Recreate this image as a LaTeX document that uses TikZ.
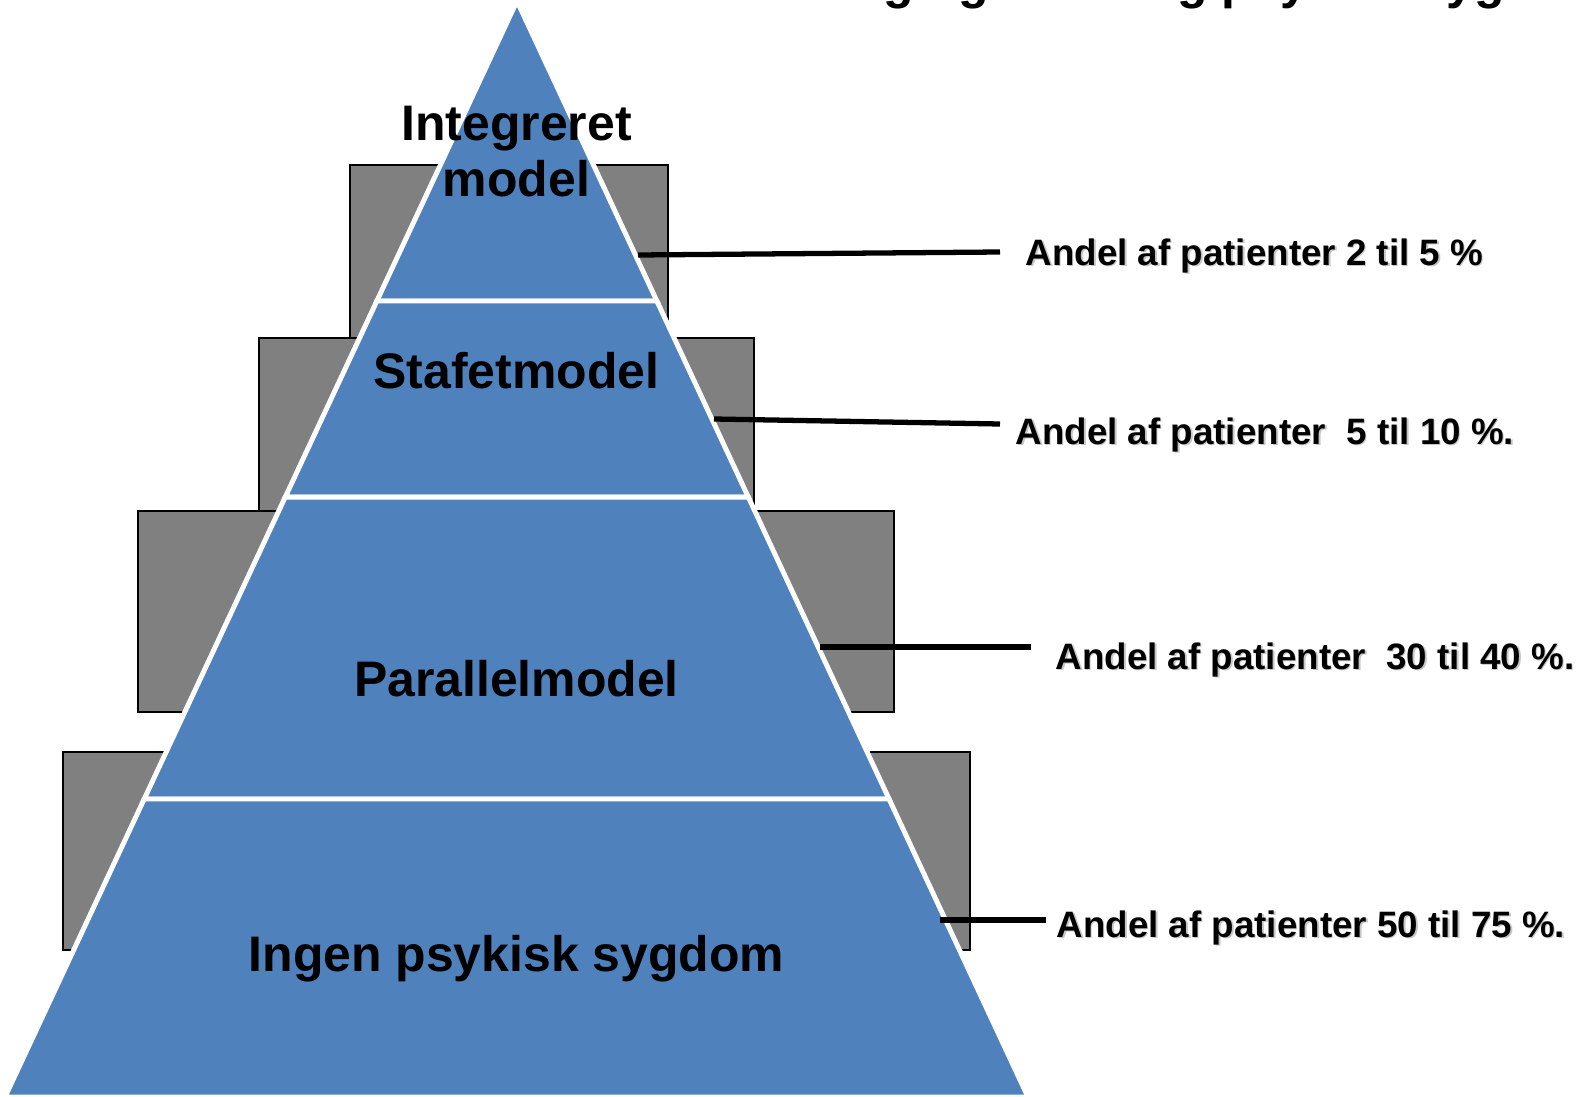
\documentclass[tikz,border=0pt]{standalone}
\usepackage{fontspec}
\setmainfont{Liberation Sans}
\usetikzlibrary{calc}
\definecolor{pyrblue}{HTML}{4F81BD}
\definecolor{boxgray}{HTML}{808080}
\tikzset{
  grbox/.style={fill=boxgray, draw=black, line width=0.6pt},
  band/.style={fill=pyrblue, draw=white, line width=1.4pt, line join=miter},
  pyrlbl/.style={font=\fontsize{14.2pt}{16.2pt}\selectfont\bfseries, inner sep=0pt, anchor=base},
  andel/.style={font=\fontsize{10.45pt}{12pt}\selectfont\bfseries, inner sep=0pt, anchor=base west},
  link/.style={draw=black, line width=1.5pt}
}
\begin{document}
\begin{tikzpicture}[x=0.01cm, y=-0.01cm]
  \useasboundingbox (0,0) rectangle (1581,1097);

  % title, only its lower part is on the page
  \node[pyrlbl, anchor=base west] (title) at (719,-1) {Misbrug og samtidig psykisk sygdom};

  % gray boxes behind the pyramid
  \foreach \xa/\ya/\xb/\yb in {350/165/668/345, 259/338/754/520, 138/511/894/712, 63/752/970/950}
    \draw[grbox] (\xa,\ya) rectangle (\xb,\yb);

  % pyramid
  \coordinate (apex) at (517,1);
  \coordinate (bl) at (5,1097);
  \coordinate (br) at (1028,1097);
  \foreach \ta/\tb in {0/0.2737, 0.2737/0.4526, 0.4526/0.7281, 0.7281/1}
    \draw[band] ($(apex)!\ta!(bl)$) -- ($(apex)!\tb!(bl)$) -- ($(apex)!\tb!(br)$) -- ($(apex)!\ta!(br)$) -- cycle;

  \node[pyrlbl, align=center] (integ) at (516.5,197) {Integreret\\model};
  \node[pyrlbl] (staf) at (516.5,389) {Stafetmodel};
  \node[pyrlbl] (para) at (516.5,696) {Parallelmodel};
  \node[pyrlbl] (ingen) at (516.5,971) {Ingen psykisk sygdom};

  % lines to the labels
  \coordinate (e1) at (638,255);  \coordinate (f1) at (1000,252);
  \coordinate (e2) at (714,419);  \coordinate (f2) at (1000,424);
  \coordinate (e3) at (820,647);  \coordinate (f3) at (1031,647);
  \coordinate (e4) at (940,920);  \coordinate (f4) at (1046,920);
  \foreach \i in {1,...,4}
    \draw[link] (e\i) -- (f\i);

  % labels with shadow
  \foreach \i/\x/\y/\txt in {1/1025/265/{Andel af patienter 2 til 5 \%},
                             2/1015/444/{Andel af patienter~ 5 til 10 \%.},
                             3/1055/669/{Andel af patienter~ 30 til 40 \%.},
                             4/1056/937/{Andel af patienter 50 til 75 \%.}}
  {
    \node[andel, text=black!22] (sh\i) at (\x+1.5,\y+1.5) {\txt};
    \node[andel] (lab\i) at (\x,\y) {\txt};
  }
\end{tikzpicture}
\end{document}
